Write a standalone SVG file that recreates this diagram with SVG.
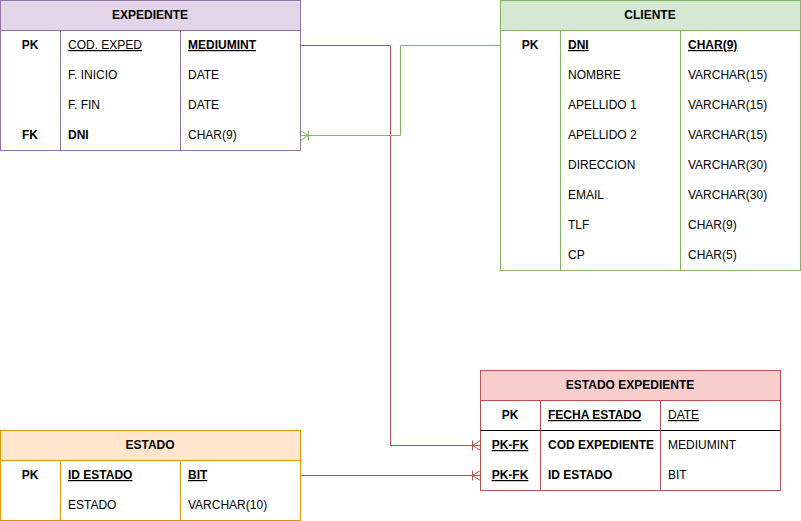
<svg xmlns="http://www.w3.org/2000/svg" width="801" height="521" viewBox="0 0 801 521">
<style>
text{font-family:"Liberation Sans",Arial,sans-serif;font-size:12px;fill:#000}
.h{text-anchor:middle}
.c{text-anchor:middle}
.b{font-weight:bold}
.u{text-decoration:underline}
.div{stroke-width:1;fill:none}
.pu .box{fill:#fff;stroke:#9673a6}.pu .hd{fill:#e1d5e7;stroke:#9673a6}.pu .div{stroke:#9673a6}
.gr .box{fill:#fff;stroke:#82b366}.gr .hd{fill:#d5e8d4;stroke:#82b366}.gr .div{stroke:#82b366}
.rd .box{fill:#fff;stroke:#b85450}.rd .hd{fill:#f8cecc;stroke:#b85450}.rd .div{stroke:#b85450}
.or .box{fill:#fff;stroke:#d79b00}.or .hd{fill:#ffe6cc;stroke:#d79b00}.or .div{stroke:#d79b00}
.edge{fill:none;stroke-width:1}
</style>
<defs>
<marker id="mR" markerUnits="userSpaceOnUse" markerWidth="12" markerHeight="12" viewBox="0 0 12 12" refX="10" refY="6" orient="auto">
<path d="M2,1 L2,11 M2,6 L10,1 M2,6 L10,11" fill="none" stroke="#b85450" stroke-width="1"/>
</marker>
<marker id="mG" markerUnits="userSpaceOnUse" markerWidth="12" markerHeight="12" viewBox="0 0 12 12" refX="10" refY="6" orient="auto">
<path d="M2,1 L2,11 M2,6 L10,1 M2,6 L10,11" fill="none" stroke="#82b366" stroke-width="1"/>
</marker>
</defs>
<g id="expediente" class="pu">
<rect class="box" x="0.5" y="0.5" width="300" height="150"/>
<rect class="hd" x="0.5" y="0.5" width="300" height="30"/>
<path class="div" d="M60.5,30.5V150.5M180.5,30.5V150.5"/>
<text class="h b" x="150" y="19">EXPEDIENTE</text>
<text class="c b" x="30" y="49">PK</text><text class="u" x="68" y="49">COD. EXPED</text><text class="b u" x="188" y="49">MEDIUMINT</text>
<text x="68" y="79">F. INICIO</text><text x="188" y="79">DATE</text>
<text x="68" y="109">F. FIN</text><text x="188" y="109">DATE</text>
<text class="c b" x="30" y="139">FK</text><text class="b" x="68" y="139">DNI</text><text x="188" y="139">CHAR(9)</text>
</g>
<g id="cliente" class="gr">
<rect class="box" x="500.5" y="0.5" width="300" height="270"/>
<rect class="hd" x="500.5" y="0.5" width="300" height="30"/>
<path class="div" d="M560.5,30.5V270.5M680.5,30.5V270.5"/>
<text class="h b" x="650" y="19">CLIENTE</text>
<text class="c b" x="530" y="49">PK</text><text class="b u" x="568" y="49">DNI</text><text class="b u" x="688" y="49">CHAR(9)</text>
<text x="568" y="79">NOMBRE</text><text x="688" y="79">VARCHAR(15)</text>
<text x="568" y="109">APELLIDO 1</text><text x="688" y="109">VARCHAR(15)</text>
<text x="568" y="139">APELLIDO 2</text><text x="688" y="139">VARCHAR(15)</text>
<text x="568" y="169">DIRECCION</text><text x="688" y="169">VARCHAR(30)</text>
<text x="568" y="199">EMAIL</text><text x="688" y="199">VARCHAR(30)</text>
<text x="568" y="229">TLF</text><text x="688" y="229">CHAR(9)</text>
<text x="568" y="259">CP</text><text x="688" y="259">CHAR(5)</text>
</g>
<g id="estado-expediente" class="rd">
<rect class="box" x="480.5" y="370.5" width="300" height="120"/>
<rect class="hd" x="480.5" y="370.5" width="300" height="30"/>
<path class="div" d="M540.5,400.5V490.5M660.5,400.5V490.5"/>
<path d="M480.5,430.5H780.5" stroke="#000" stroke-width="1"/>
<text class="h b" x="630" y="389">ESTADO EXPEDIENTE</text>
<text class="c b" x="510" y="419">PK</text><text class="b u" x="548" y="419">FECHA ESTADO</text><text class="u" x="668" y="419">DATE</text>
<text class="c b u" x="510" y="449">PK-FK</text><text class="b" x="548" y="449">COD EXPEDIENTE</text><text x="668" y="449">MEDIUMINT</text>
<text class="c b u" x="510" y="479">PK-FK</text><text class="b" x="548" y="479">ID ESTADO</text><text x="668" y="479">BIT</text>
</g>
<g id="estado" class="or">
<rect class="box" x="0.5" y="430.5" width="300" height="90"/>
<rect class="hd" x="0.5" y="430.5" width="300" height="30"/>
<path class="div" d="M60.5,460.5V520.5M180.5,460.5V520.5"/>
<text class="h b" x="150" y="449">ESTADO</text>
<text class="c b" x="30" y="479">PK</text><text class="b u" x="68" y="479">ID ESTADO</text><text class="b u" x="188" y="479">BIT</text>
<text x="68" y="509">ESTADO</text><text x="188" y="509">VARCHAR(10)</text>
</g>
<g id="connectors">
<path class="edge" stroke="#b85450" d="M300.5,45.5H390.5V445.5H480.5" marker-end="url(#mR)"/>
<path class="edge" stroke="#b85450" d="M300.5,475.5H480.5" marker-end="url(#mR)"/>
<path class="edge" stroke="#82b366" d="M500.5,45.5H400.5V135.5H300.5" marker-end="url(#mG)"/>
</g>
</svg>
